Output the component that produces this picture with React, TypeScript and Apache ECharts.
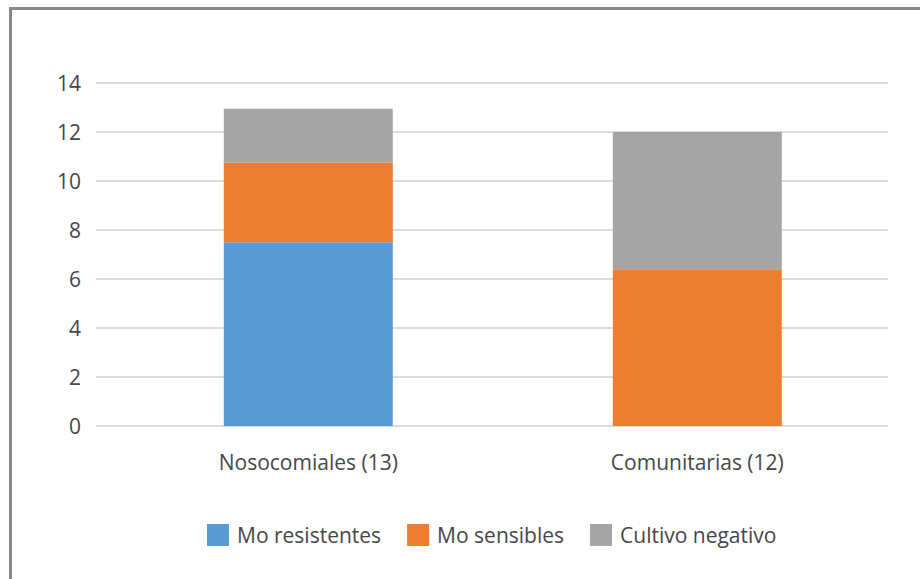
import React, { useEffect, useRef } from "react";
import * as echarts from "echarts";

const categories = ["Nosocomiales (13)", "Comunitarias (12)"];
const seriesNames = ["Mo resistentes", "Mo sensibles", "Cultivo negativo"];
const moResistentes = [7.5, 0];
const moSensibles = [3.25, 6.4];
const cultivoNegativo = [2.2, 5.6];
const yTicks = { min: 0, max: 14, interval: 2 };
const colors = ["#5B9BD5", "#ED7D31", "#A5A5A5"];

const FONT = "'Open Sans', 'Noto Sans', sans-serif";
const TEXT = "#474747";

export default function App() {
  const ref = useRef<HTMLDivElement>(null);
  useEffect(() => {
    document.body.style.margin = "0";
    if (!ref.current) return;
    const chart = echarts.init(ref.current, undefined, { renderer: "svg" });
    const values = [moResistentes, moSensibles, cultivoNegativo];
    chart.setOption({
      animation: false,
      backgroundColor: "#ffffff",
      textStyle: { fontFamily: FONT },
      graphic: [
        { type: "rect", shape: { x: 9, y: 7, width: 920, height: 3 }, style: { fill: "#888888" } },
        { type: "rect", shape: { x: 9, y: 7, width: 3, height: 580 }, style: { fill: "#888888" } },
      ],
      grid: [
        { left: 96, right: 32, top: 83, bottom: 153 },
        { left: 113.8, width: 778, top: 83, bottom: 153 },
      ],
      legend: {
        data: seriesNames,
        left: 207,
        top: 524,
        icon: "rect",
        itemWidth: 22,
        itemHeight: 22,
        itemGap: 26,
        padding: 0,
        textStyle: { fontSize: 21, color: TEXT, fontFamily: FONT, padding: [0, 0, 0, 3] },
      },
      xAxis: [
        { type: "category", gridIndex: 0, data: categories, show: false },
        {
          type: "category",
          gridIndex: 1,
          data: categories,
          axisLine: { show: false },
          axisTick: { show: false },
          axisLabel: { fontSize: 21, color: TEXT, fontFamily: FONT, margin: 25 },
        },
      ],
      yAxis: [
        {
          type: "value",
          gridIndex: 0,
          min: yTicks.min,
          max: yTicks.max,
          interval: yTicks.interval,
          axisLine: { show: false },
          axisTick: { show: false },
          axisLabel: { fontSize: 21, color: TEXT, fontFamily: FONT, margin: 15 },
          splitLine: { lineStyle: { color: "#d0d0d0", width: 1.5 } },
        },
        {
          type: "value",
          gridIndex: 1,
          min: yTicks.min,
          max: yTicks.max,
          interval: yTicks.interval,
          show: false,
          splitLine: { show: false },
        },
      ],
      series: seriesNames.map((name, i) => ({
        name,
        type: "bar",
        xAxisIndex: 1,
        yAxisIndex: 1,
        stack: "total",
        barWidth: 169,
        itemStyle: { color: colors[i] },
        data: values[i],
      })),
    });
    return () => chart.dispose();
  }, []);
  return <div ref={ref} style={{ width: 920, height: 579 }} />;
}
